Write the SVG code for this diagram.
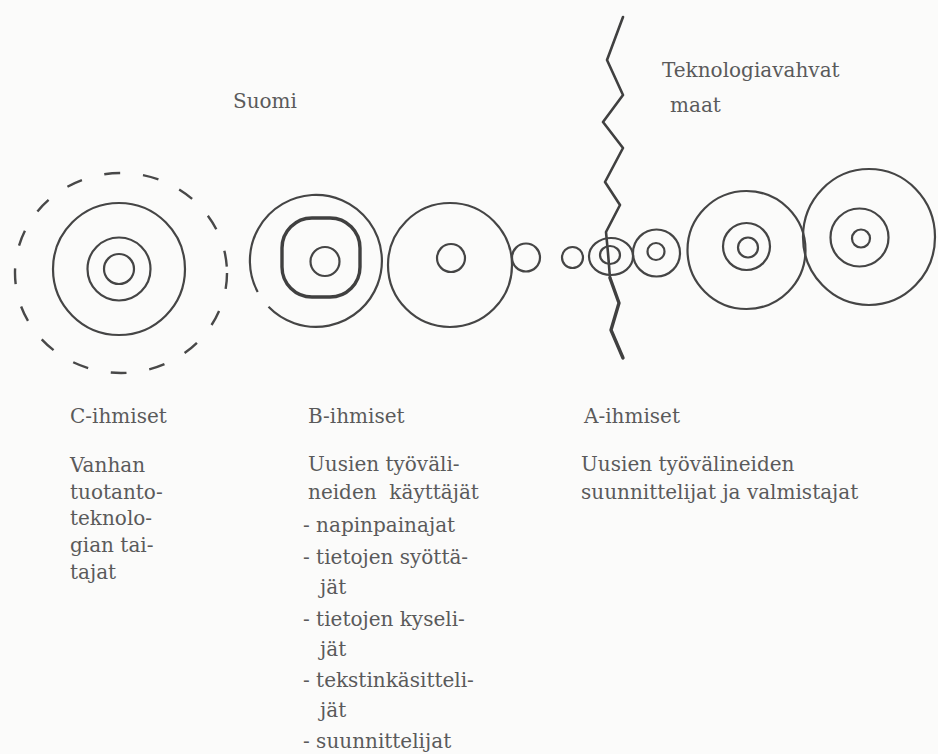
<svg xmlns="http://www.w3.org/2000/svg" width="938" height="754" viewBox="0 0 938 754">
<style>
.ln{fill:none;stroke:#454545;stroke-width:2.2}
.thk{fill:none;stroke:#404040;stroke-width:3.4}
.dash{fill:none;stroke:#484848;stroke-width:2.4;stroke-dasharray:16 23}
.zz{fill:none;stroke:#404040;stroke-linejoin:round;stroke-linecap:round}
.t{font-family:"DejaVu Serif","Liberation Serif",serif;font-size:20px;fill:#5a5a5a}
</style>
<rect width="938" height="754" fill="#fbfbfa"/>
<g id="borderline">
<path class="zz" stroke-width="2.6" d="M623,17 L607,60 L623,95 L603,122 L623,148 L605,182 L620,205 L606,232 L608,253 L610,278"/>
<path class="zz" stroke-width="3.4" d="M610,278 L619,303 L611,330 L623,358"/>
</g>
<g id="c-people">
<ellipse class="dash" cx="121" cy="273" rx="106" ry="100"/>
<circle class="ln" cx="119" cy="269" r="66"/>
<circle class="ln" cx="119" cy="269" r="31.5"/>
<circle class="ln" cx="119" cy="269" r="15"/>
</g>
<g id="b-people">
<path class="ln" d="M257.7,292 A66,66 0 1 1 268.5,306.8"/>
<rect class="thk" x="282" y="218" width="78" height="79" rx="30"/>
<circle class="ln" cx="325" cy="261.5" r="14.5"/>
</g>
<g id="b-circle2">
<circle class="ln" cx="450" cy="265" r="62"/>
<circle class="ln" cx="451" cy="258" r="14"/>
</g>
<g id="small1"><circle class="ln" cx="526" cy="257.5" r="14"/></g>
<g id="small2"><circle class="ln" cx="572.5" cy="257.5" r="10.5"/></g>
<g id="border-circle">
<ellipse class="ln" cx="611" cy="256.5" rx="22" ry="18.5"/>
<ellipse class="ln" cx="610" cy="255" rx="10" ry="9"/>
</g>
<g id="a-circle1">
<circle class="ln" cx="656.5" cy="253" r="23.5"/>
<circle class="ln" cx="656" cy="251.5" r="8.5"/>
</g>
<g id="a-circle2">
<circle class="ln" cx="746.5" cy="250" r="59"/>
<circle class="ln" cx="746.5" cy="246.5" r="23.5"/>
<circle class="ln" cx="748" cy="247.5" r="10"/>
</g>
<g id="a-circle3">
<ellipse class="ln" cx="869" cy="237" rx="66" ry="68"/>
<circle class="ln" cx="859.5" cy="237.5" r="29"/>
<circle class="ln" cx="861" cy="238.5" r="9"/>
</g>
<g id="labels">
<text class="t" x="233" y="108">Suomi</text>
<text class="t" x="662" y="77">Teknologiavahvat</text>
<text class="t" x="670" y="112">maat</text>
</g>
<g id="c-text">
<text class="t" x="70" y="423">C-ihmiset</text>
<text class="t" x="70" y="472">Vanhan</text>
<text class="t" x="70" y="499">tuotanto-</text>
<text class="t" x="70" y="525">teknolo-</text>
<text class="t" x="70" y="552">gian tai-</text>
<text class="t" x="70" y="579">tajat</text>
</g>
<g id="b-text">
<text class="t" x="308" y="423">B-ihmiset</text>
<text class="t" x="308" y="471">Uusien työväli-</text>
<text class="t" x="308" y="499" xml:space="preserve">neiden  käyttäjät</text>
<text class="t" x="303" y="532">- napinpainajat</text>
<text class="t" x="303" y="564">- tietojen syöttä-</text>
<text class="t" x="320" y="594">jät</text>
<text class="t" x="303" y="626">- tietojen kyseli-</text>
<text class="t" x="320" y="656">jät</text>
<text class="t" x="303" y="687">- tekstinkäsitteli-</text>
<text class="t" x="320" y="717">jät</text>
<text class="t" x="303" y="748">- suunnittelijat</text>
</g>
<g id="a-text">
<text class="t" x="584" y="423">A-ihmiset</text>
<text class="t" x="581" y="471">Uusien työvälineiden</text>
<text class="t" x="581" y="499">suunnittelijat ja valmistajat</text>
</g>
</svg>
